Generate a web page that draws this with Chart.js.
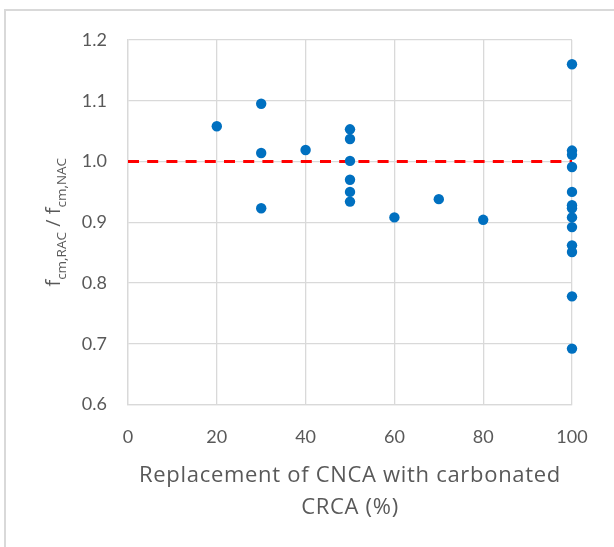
<!DOCTYPE html>
<html><head><meta charset="utf-8">
<script src="https://cdn.jsdelivr.net/npm/chart.js@4/dist/chart.umd.min.js"></script>
<style>html,body{margin:0;padding:0;background:#fff}#wrap{width:614px;height:547px;position:relative}</style>
</head><body><div id="wrap"><canvas id="c"></canvas></div>
<script>
// ---- data ----
const replacementPct = [20, 30, 30, 30, 40, 50, 50, 50, 50, 50, 50, 60, 70, 80,
  100, 100, 100, 100, 100, 100, 100, 100, 100, 100, 100, 100, 100];
const strengthRatio = [1.058, 1.095, 1.014, 0.923, 1.019, 1.053, 1.037, 1.001, 0.970, 0.950, 0.934, 0.908, 0.938, 0.904,
  1.160, 1.018, 1.011, 0.991, 0.950, 0.928, 0.923, 0.908, 0.892, 0.862, 0.851, 0.778, 0.692];
const refLineX = [0, 100];
const refLineY = [1.0, 1.0];
const xTickValues = [0, 20, 40, 60, 80, 100];
const yTickValues = [0.6, 0.7, 0.8, 0.9, 1.0, 1.1, 1.2];
const xTitleLines = ['Replacement of CNCA with carbonated', 'CRCA (%)'];
const yTitleParts = [['f', false], ['cm,RAC', true], [' / f', false], ['cm,NAC', true]];

const FONT = 'Lato, "Open Sans", "Liberation Sans", sans-serif';
const TFONT = '"Open Sans", Lato, "Liberation Sans", sans-serif';
const TXT = '#595959';
const GRID = '#D9D9D9';

const titlePlugin = {
  id: 'titles',
  beforeDraw(chart) {
    const ctx = chart.ctx;
    ctx.save();
    ctx.strokeStyle = GRID; ctx.lineWidth = 2;
    ctx.beginPath(); ctx.moveTo(5, 547); ctx.lineTo(5, 10); ctx.lineTo(614, 10); ctx.stroke();
    ctx.restore();
  },
  afterDraw(chart) {
    const { ctx, chartArea } = chart;
    const cx = (chartArea.left + chartArea.right) / 2;
    const cy = (chartArea.top + chartArea.bottom) / 2;
    ctx.save();
    ctx.fillStyle = TXT;
    ctx.font = '22px ' + TFONT;
    if ('letterSpacing' in ctx) ctx.letterSpacing = '0.7px';
    ctx.textAlign = 'center';
    ctx.textBaseline = 'alphabetic';
    ctx.fillText(xTitleLines[0], cx, 482);
    ctx.fillText(xTitleLines[1], cx, 514);
    if ('letterSpacing' in ctx) ctx.letterSpacing = '0px';
    // rotated y title with subscripts
    const mainFont = '20px ' + TFONT, subFont = '13.5px ' + TFONT;
    ctx.translate(60, cy);
    ctx.rotate(-Math.PI / 2);
    ctx.textAlign = 'left';
    let total = 0;
    const widths = yTitleParts.map(([t, sub]) => { ctx.font = sub ? subFont : mainFont; const w = ctx.measureText(t).width; total += w; return w; });
    let x = -total / 2;
    yTitleParts.forEach(([t, sub], i) => {
      ctx.font = sub ? subFont : mainFont;
      ctx.fillText(t, x, sub ? 6 : 0);
      x += widths[i];
    });
    ctx.restore();
  }
};

new Chart(document.getElementById('c'), {
  type: 'scatter',
  data: {
    datasets: [
      {
        label: 'ratio',
        data: replacementPct.map((v, i) => ({ x: v, y: strengthRatio[i] })),
        backgroundColor: '#0070C0',
        borderColor: '#0070C0',
        borderWidth: 0,
        pointRadius: 5.2,
        clip: false
      },
      {
        label: 'reference',
        data: refLineX.map((v, i) => ({ x: v, y: refLineY[i] })),
        showLine: true,
        borderColor: '#FF0000',
        borderWidth: 3,
        borderDash: [11, 8.2],
        pointRadius: 0,
        fill: false
      }
    ]
  },
  options: {
    responsive: true,
    maintainAspectRatio: false,
    animation: false,
    devicePixelRatio: 1,
    layout: { padding: { left: 0, top: 40, right: 42, bottom: 0 } },
    plugins: { legend: { display: false }, tooltip: { enabled: false }, title: { display: false } },
    scales: {
      x: {
        type: 'linear', min: 0, max: 100,
        afterBuildTicks: (s) => { s.ticks = xTickValues.map(v => ({ value: v })); },
        afterFit: (s) => { s.height = 142.5; },
        grid: { color: GRID, lineWidth: 1.3, drawTicks: false },
        border: { color: GRID, width: 1.3 },
        ticks: { color: TXT, font: { family: FONT, size: 18 }, padding: 22, maxRotation: 0 }
      },
      y: {
        type: 'linear', min: 0.6, max: 1.2,
        afterBuildTicks: (s) => { s.ticks = yTickValues.map(v => ({ value: v })); },
        afterFit: (s) => { s.width = 128; },
        grid: { color: GRID, lineWidth: 1.3, drawTicks: false },
        border: { color: GRID, width: 1.3 },
        ticks: { color: TXT, font: { family: FONT, size: 18 }, padding: 21, callback: (v) => Number(v).toFixed(1) }
      }
    }
  },
  plugins: [titlePlugin]
});
</script>
</body></html>
